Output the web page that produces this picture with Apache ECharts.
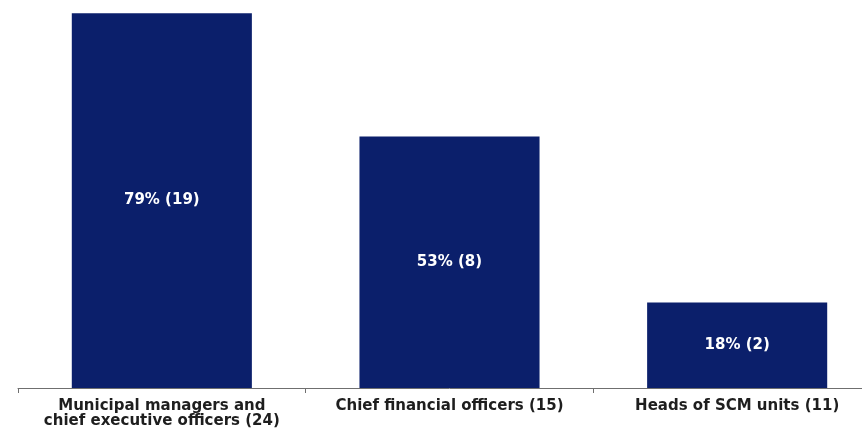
<!DOCTYPE html>
<html>
<head>
<meta charset="utf-8">
<script src="https://cdn.jsdelivr.net/npm/echarts@6/dist/echarts.min.js"></script>
<style>
  html, body { margin: 0; padding: 0; background: #fff; width: 862px; height: 435px; overflow: hidden; }
  /* the plot runs past the right edge, so the canvas is wider than the page */
  #chart { width: 881px; height: 435px; }
</style>
</head>
<body>
<div id="chart"></div>
<script>
// Share of officials per group, with the count behind each percentage
const categories = [
  'Municipal managers and\nchief executive officers (24)',
  'Chief financial officers (15)',
  'Heads of SCM units (11)'
];
const percentValues = [79, 53, 18];
const countValues = [19, 8, 2];

const chart = echarts.init(document.getElementById('chart'), null, { renderer: 'canvas' });

chart.setOption({
  animation: false,
  backgroundColor: '#ffffff',
  grid: { left: 18, right: 0, top: 8.4, bottom: 47, containLabel: false },
  xAxis: {
    type: 'category',
    data: categories,
    axisLine: { show: true, lineStyle: { color: '#6f6f6f', width: 1 } },
    axisTick: { show: true, length: 5, lineStyle: { color: '#6f6f6f' } },
    axisLabel: {
      interval: 0,
      margin: 11,
      color: '#1e1e1e',
      fontFamily: 'DejaVu Sans',
      fontWeight: 'bold',
      fontSize: 15,
      lineHeight: 15
    }
  },
  yAxis: {
    type: 'value',
    min: 0,
    max: 80,
    show: false,
    splitLine: { show: false }
  },
  series: [{
    type: 'bar',
    data: percentValues,
    barWidth: '62.6%',
    itemStyle: { color: '#0b1f6b' },
    label: {
      show: true,
      position: 'inside',
      color: '#ffffff',
      fontFamily: 'DejaVu Sans',
      fontWeight: 'bold',
      fontSize: 15,
      formatter: p => percentValues[p.dataIndex] + '% (' + countValues[p.dataIndex] + ')'
    }
  }]
});
</script>
</body>
</html>
